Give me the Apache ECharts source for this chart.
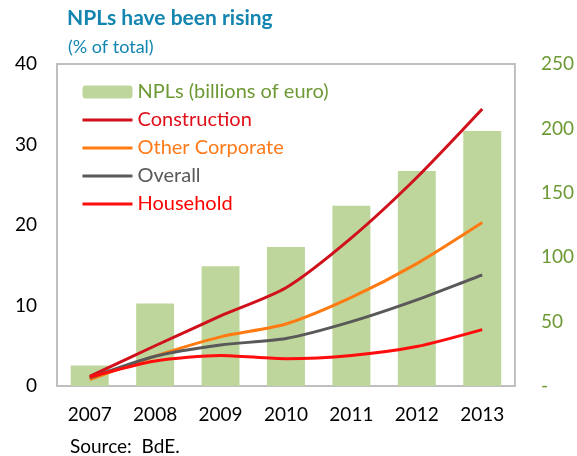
<!DOCTYPE html>
<html>
<head>
<meta charset="utf-8">
<script src="https://cdn.jsdelivr.net/npm/echarts@6/dist/echarts.min.js"></script>
<style>
  html, body { margin: 0; padding: 0; background: #fff; }
  #chart { width: 577px; height: 456px; }
</style>
</head>
<body>
<div id="chart"></div>
<script>
// data
const years = ['2007', '2008', '2009', '2010', '2011', '2012', '2013']
const npls = [16, 64, 93, 108, 140, 167, 198]          // billions of euro, right axis
const construction = [1.2, 5.0, 8.7, 12.2, 18.4, 25.9, 34.4]
const otherCorporate = [0.8, 3.7, 6.1, 7.7, 11.0, 15.2, 20.3]
const overall = [1.0, 3.7, 5.1, 5.9, 8.0, 10.7, 13.8]
const household = [1.1, 3.1, 3.8, 3.4, 3.8, 4.9, 7.0]

const font = 'Lato, "Open Sans", sans-serif'
const green = '#6E9A35'
const noSymbol = { color: 'rgba(0,0,0,0)', borderWidth: 0 }

var myChart = echarts.init(document.getElementById('chart'))

function lineSeries(name, data, color) {
  return {
    name: name,
    type: 'line',
    yAxisIndex: 0,
    smooth: 0.25,
    symbol: 'none',
    lineStyle: { color: color, width: 3 },
    itemStyle: { color: color },
    z: 3,
    data: data
  }
}

var option = {
  animation: false,
  title: [
    {
      text: 'NPLs have been rising',
      left: 67,
      top: 8,
      padding: 0,
      textStyle: { fontFamily: font, fontSize: 21, fontWeight: 'bold', color: '#1385B0' }
    },
    {
      text: '(% of total)',
      left: 68,
      top: 38,
      padding: 0,
      textStyle: { fontFamily: font, fontSize: 18, fontWeight: 'normal', color: '#1385B0' }
    },
    {
      text: 'Source:  BdE.',
      left: 70,
      top: 437,
      padding: 0,
      textStyle: { fontFamily: font, fontSize: 19, fontWeight: 'normal', color: '#000' }
    }
  ],
  legend: {
    orient: 'vertical',
    left: 76,
    top: 77,
    itemWidth: 50,
    itemHeight: 13,
    itemGap: 8,
    lineStyle: { width: 3 },
    textStyle: { fontFamily: font, fontSize: 20 },
    data: [
      { name: 'NPLs (billions of euro)', textStyle: { color: green } },
      { name: 'Construction', itemStyle: noSymbol, textStyle: { color: '#E0101A' } },
      { name: 'Other Corporate', itemStyle: noSymbol, textStyle: { color: '#FF7A1A' } },
      { name: 'Overall', itemStyle: noSymbol, textStyle: { color: '#595959' } },
      { name: 'Household', itemStyle: noSymbol, textStyle: { color: '#FF0000' } }
    ]
  },
  grid: {
    left: 57,
    right: 59,
    top: 64,
    bottom: 70,
    show: true,
    borderColor: '#BFBFBF',
    borderWidth: 2,
    containLabel: false
  },
  xAxis: {
    type: 'category',
    data: years,
    axisLine: { show: false },
    axisTick: { show: false },
    axisLabel: { fontFamily: font, fontSize: 19, color: '#000', margin: 19 }
  },
  yAxis: [
    {
      type: 'value',
      min: 0,
      max: 40,
      interval: 10,
      splitLine: { show: false },
      axisLine: { show: false },
      axisTick: { show: false },
      axisLabel: { fontFamily: font, fontSize: 19, color: '#000', margin: 20 }
    },
    {
      type: 'value',
      min: 0,
      max: 250,
      interval: 50,
      splitLine: { show: false },
      axisLine: { show: false },
      axisTick: { show: false },
      axisLabel: {
        fontFamily: font,
        fontSize: 19,
        color: green,
        margin: 26,
        formatter: function (v) { return v === 0 ? '-' : v }
      }
    }
  ],
  series: [
    {
      name: 'NPLs (billions of euro)',
      type: 'bar',
      yAxisIndex: 1,
      barCategoryGap: '42%',
      itemStyle: { color: '#BED69B' },
      z: 1,
      data: npls
    },
    lineSeries('Construction', construction, '#D0101A'),
    lineSeries('Other Corporate', otherCorporate, '#FF7A10'),
    lineSeries('Overall', overall, '#595959'),
    lineSeries('Household', household, '#FF0D0D')
  ]
}

option && myChart.setOption(option)
</script>
</body>
</html>
